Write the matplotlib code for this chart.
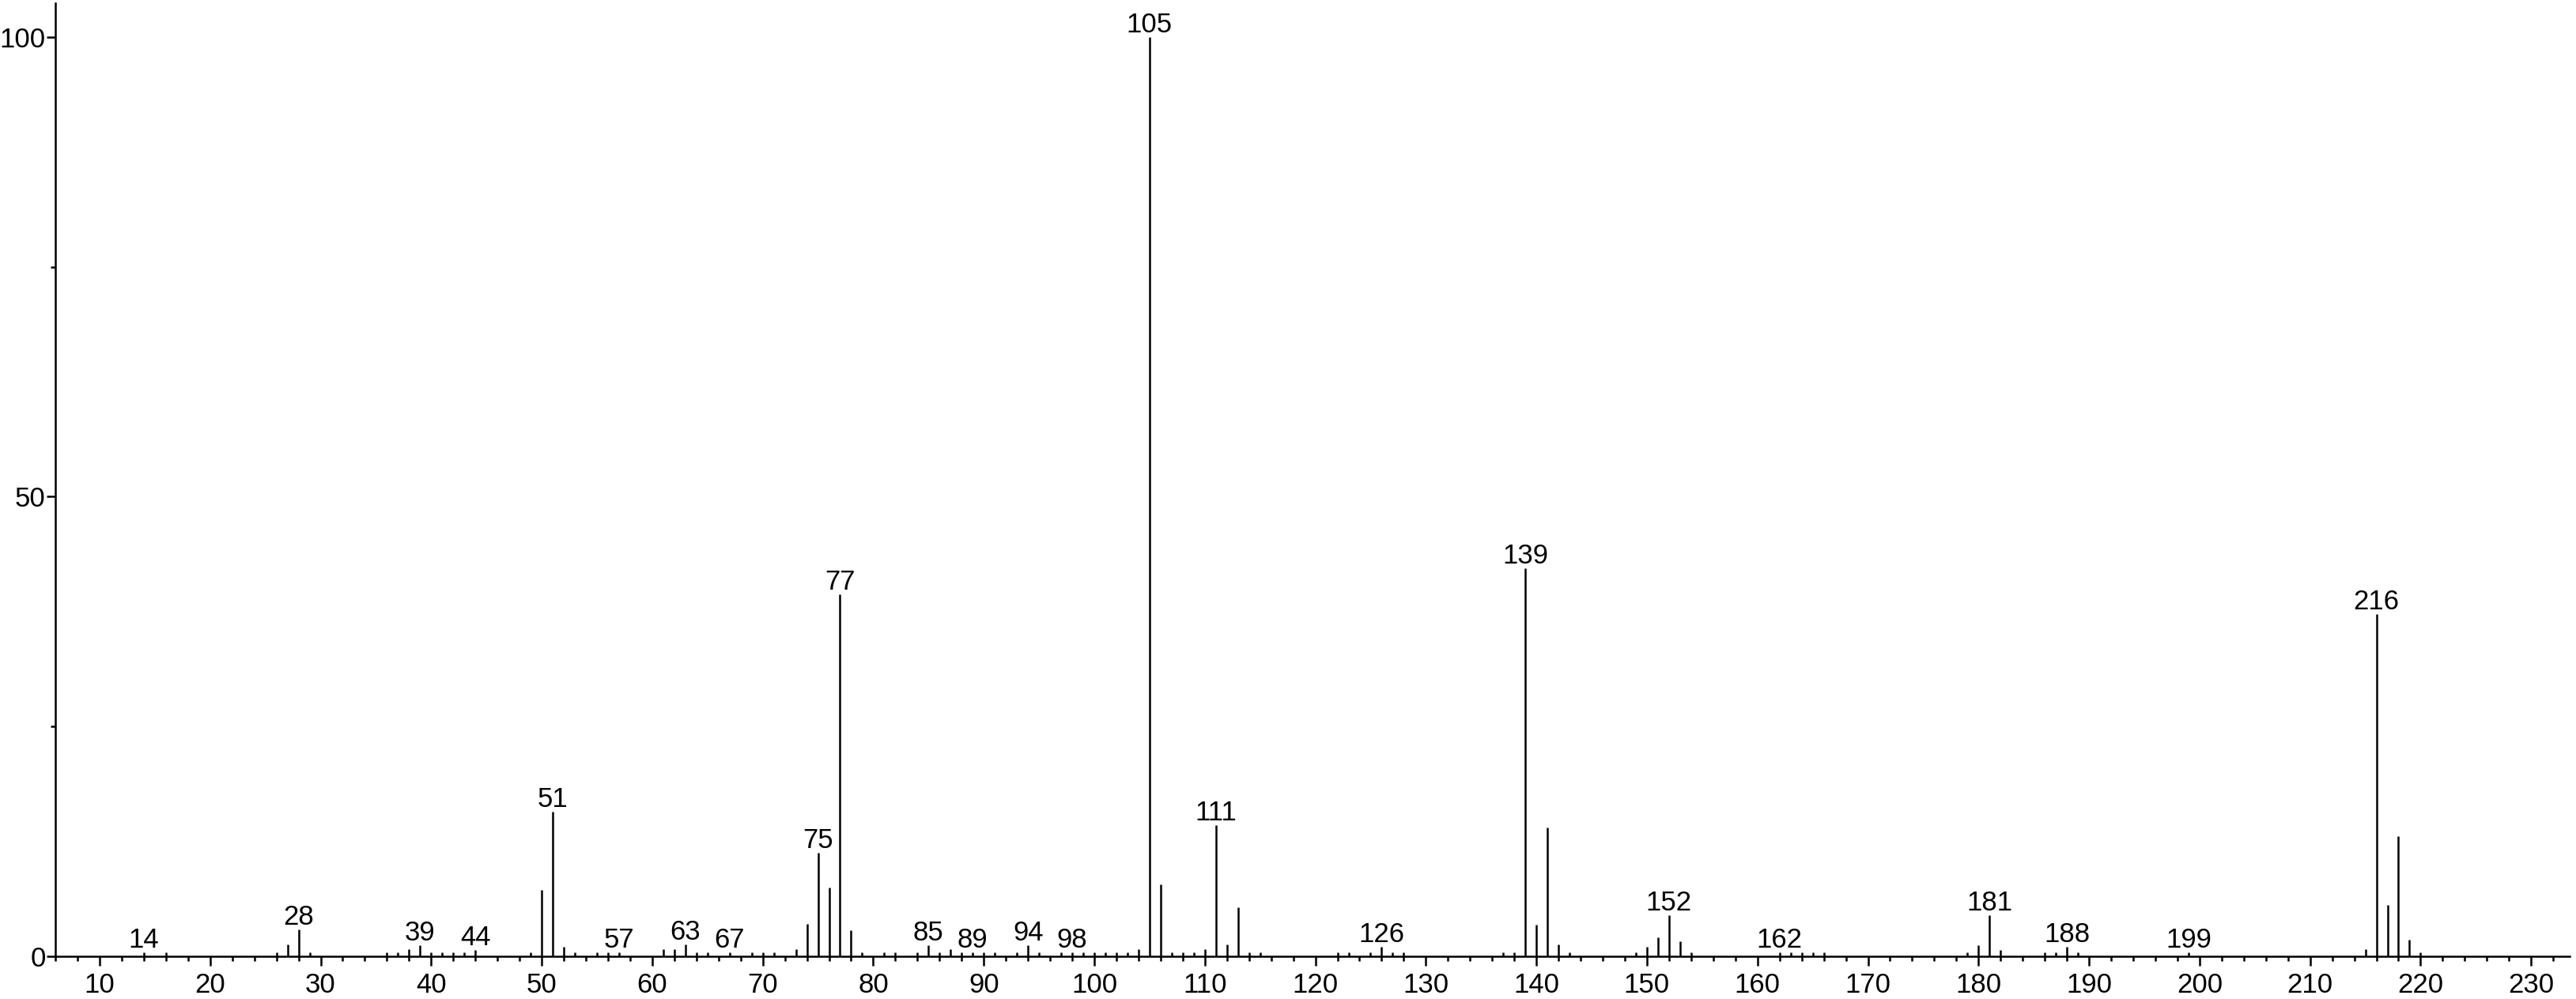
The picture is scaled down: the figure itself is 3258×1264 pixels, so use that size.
import numpy as np
import matplotlib
matplotlib.use("Agg")
import matplotlib.pyplot as plt
from matplotlib.ticker import MultipleLocator

plt.rcParams['font.family'] = ['Liberation Sans Narrow', 'Liberation Sans', 'DejaVu Sans']

# m/z and relative intensity (%)
mz = [14, 16, 26, 27, 28, 29, 36, 37, 38, 39, 40, 41, 42, 43, 44, 49, 50, 51,
      52, 53, 55, 56, 57, 61, 62, 63, 64, 65, 67, 69, 70, 71, 73, 74, 75, 76,
      77, 78, 79, 81, 82, 84, 85, 86, 87, 88, 89, 90, 91, 93, 94, 95, 97, 98,
      99, 100, 101, 102, 103, 104, 105, 106, 107, 108, 109, 110, 111, 112, 113,
      114, 115, 122, 123, 125, 126, 127, 128, 137, 138, 139, 140, 141, 142, 143,
      149, 150, 151, 152, 153, 154, 162, 163, 164, 165, 166, 179, 180, 181, 182,
      186, 187, 188, 189, 199, 215, 216, 217, 218, 219, 220]
intensity = [0.45, 0.45, 0.45, 1.3, 2.9, 0.45, 0.45, 0.45, 0.8, 1.2, 0.45, 0.45,
             0.45, 0.45, 0.7, 0.45, 7.2, 15.7, 1.0, 0.45, 0.45, 0.45, 0.45, 0.8,
             0.8, 1.3, 0.45, 0.45, 0.45, 0.45, 0.45, 0.45, 0.8, 3.5, 11.3, 7.5,
             39.4, 2.85, 0.45, 0.45, 0.45, 0.45, 1.2, 0.45, 0.8, 0.45, 0.45, 0.45,
             0.45, 0.45, 1.2, 0.45, 0.45, 0.45, 0.45, 0.45, 0.45, 0.45, 0.45, 0.8,
             100.0, 7.8, 0.45, 0.45, 0.45, 0.8, 14.3, 1.3, 5.3, 0.45, 0.45, 0.45,
             0.45, 0.45, 1.0, 0.45, 0.45, 0.45, 0.45, 42.2, 3.4, 14.0, 1.3, 0.45,
             0.45, 1.0, 2.1, 4.5, 1.6, 0.45, 0.45, 0.45, 0.45, 0.45, 0.45, 0.45,
             1.2, 4.5, 0.7, 0.45, 0.45, 1.0, 0.45, 0.45, 0.8, 37.2, 5.6, 13.1,
             1.8, 0.45]

# peaks that carry a label
labelled = [14, 28, 39, 44, 51, 57, 63, 67, 75, 77, 85, 89, 94, 98, 105, 111,
            126, 139, 152, 162, 181, 188, 199, 216]

fig = plt.figure(figsize=(32.58, 12.64), dpi=100)
ax = fig.add_axes([0.02149, 0.0427, 0.9761, 0.9542])

ax.vlines(mz, 0, intensity, color='black', linewidth=1.8)

lookup = dict(zip(mz, intensity))
for m in labelled:
    ax.annotate(str(m), (m, lookup[m]), xytext=(0, 4.3), textcoords='offset points',
                ha='center', va='baseline', fontsize=25)

ax.set_xlim(6.0, 233.5)
ax.set_ylim(0, 103.7)

ax.spines['top'].set_visible(False)
ax.spines['right'].set_visible(False)
for s in ('left', 'bottom'):
    ax.spines[s].set_linewidth(1.8)

ax.xaxis.set_major_locator(MultipleLocator(10))
ax.xaxis.set_minor_locator(MultipleLocator(2))
ax.yaxis.set_major_locator(MultipleLocator(50))
ax.yaxis.set_minor_locator(MultipleLocator(25))

ax.tick_params(axis='x', which='major', direction='out', length=8.4, width=1.8,
               labelsize=25, pad=6)
ax.tick_params(axis='x', which='minor', direction='out', length=4, width=1.8)
ax.tick_params(axis='y', which='major', direction='out', length=8, width=1.8,
               labelsize=25, pad=1)
ax.tick_params(axis='y', which='minor', direction='out', length=4, width=1.8)

plt.savefig("out.png", dpi=100)
plt.close()
